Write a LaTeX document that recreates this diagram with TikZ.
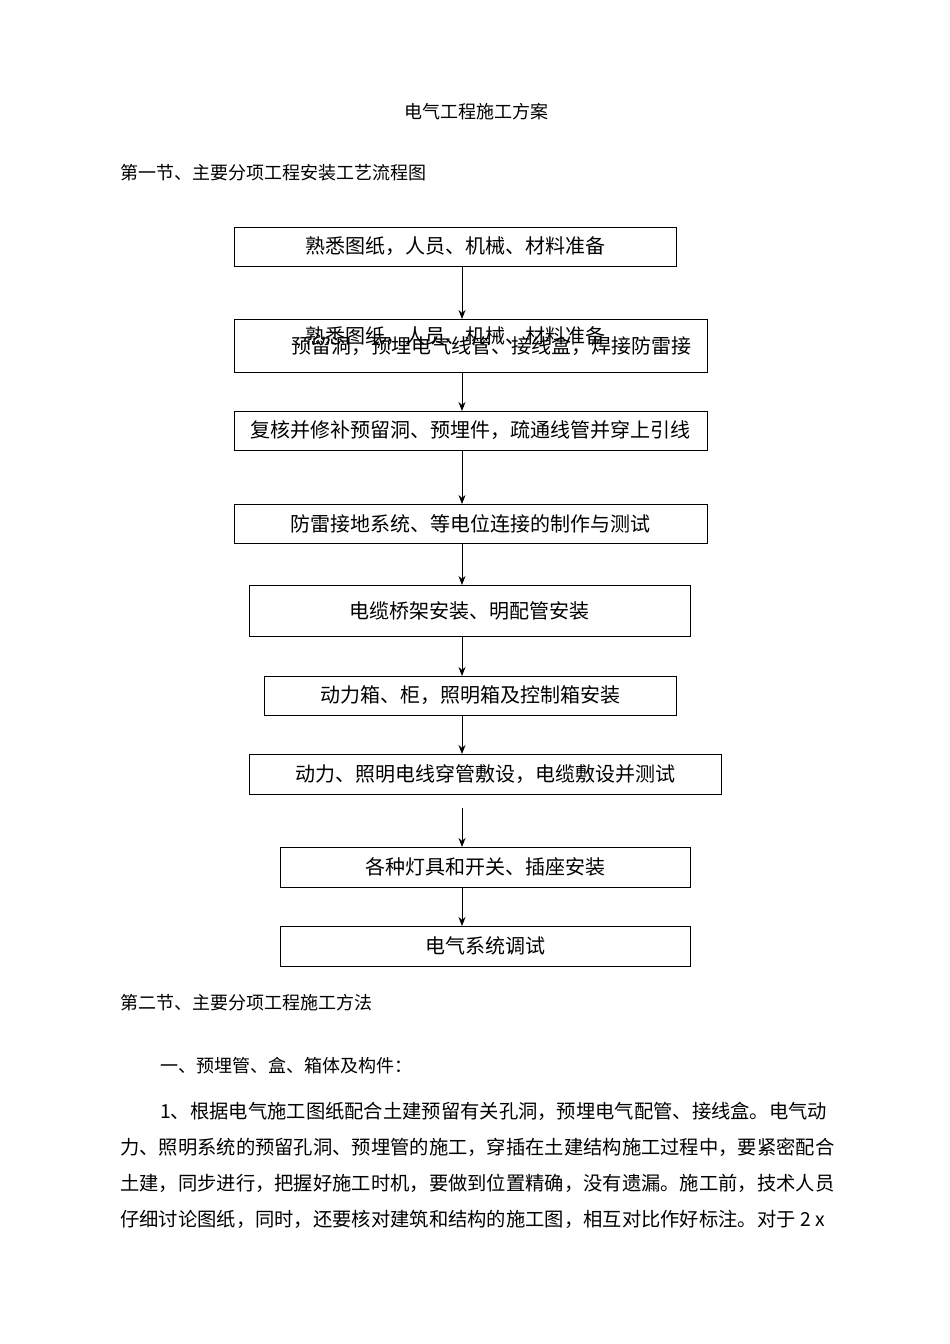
\documentclass[tikz,border=0pt]{standalone}
\usepackage{fontspec}
\setmainfont{Noto Sans CJK SC}
\usetikzlibrary{arrows.meta}
\begin{document}
\begin{tikzpicture}[x=1pt,y=-1pt,
  fbox/.style={draw,line width=0.8pt,font=\fontsize{20}{22}\selectfont,inner sep=0pt},
  txt/.style={anchor=west,inner sep=0pt,font=\fontsize{18}{20}\selectfont},
  ptxt/.style={anchor=west,inner sep=0pt,font=\fontsize{19.3}{21}\selectfont},
  arr/.style={-{Stealth[length=9pt,width=7pt]},line width=1pt}]
\useasboundingbox[fill=white] (0,0) rectangle (950,1344);
\node[font=\fontsize{18}{20}\selectfont] (title) at (476,112) {电气工程施工方案};
\node[txt] (s1) at (120,173) {第一节、主要分项工程安装工艺流程图};
\newcommand{\fb}[6]{\node[fbox,minimum width=#3-#2,minimum height=#5-#4] (#1) at ({(#2+#3)/2},{(#4+#5)/2}) {#6};}
\fb{b1}{234}{676}{227}{266}{熟悉图纸，人员、机械、材料准备}
\fb{b2}{234}{707}{319}{372}{}
\node[font=\fontsize{20}{22}\selectfont] (b2a) at (455,336) {熟悉图纸，人员、机械、材料准备};
\node[font=\fontsize{20}{22}\selectfont] (b2b) at (491,346) {预留洞，预埋电气线管、接线盒，焊接防雷接};
\fb{b3}{234}{707}{411}{450}{复核并修补预留洞、预埋件，疏通线管并穿上引线}
\fb{b4}{234}{707}{504}{543}{防雷接地系统、等电位连接的制作与测试}
\fb{b5}{249}{690}{585}{636}{电缆桥架安装、明配管安装}
\fb{b6}{264}{676}{676}{715}{动力箱、柜，照明箱及控制箱安装}
\fb{b7}{249}{721}{754}{794}{动力、照明电线穿管敷设，电缆敷设并测试}
\fb{b8}{280}{690}{847}{887}{各种灯具和开关、插座安装}
\fb{b9}{280}{690}{926}{966}{电气系统调试}
\draw[arr] (462,266) -- (462,319);
\draw[arr] (462,372) -- (462,411);
\draw[arr] (462,450) -- (462,504);
\draw[arr] (462,543) -- (462,585);
\draw[arr] (462,636) -- (462,676);
\draw[arr] (462,715) -- (462,754);
\draw[arr] (462,808) -- (462,847);
\draw[arr] (462,887) -- (462,926);
\node[txt] (s2) at (120,1003) {第二节、主要分项工程施工方法};
\node[txt] (p0) at (160,1066) {一、预埋管、盒、箱体及构件：};
\node[ptxt] (p1) at (160,1111) {1、根据电气施工图纸配合土建预留有关孔洞，预埋电气配管、接线盒。电气动};
\node[ptxt] (p2) at (120,1147) {力、照明系统的预留孔洞、预埋管的施工，穿插在土建结构施工过程中，要紧密配合};
\node[ptxt] (p3) at (120,1183) {土建，同步进行，把握好施工时机，要做到位置精确，没有遗漏。施工前，技术人员};
\node[ptxt] (p4) at (120,1219) {仔细讨论图纸，同时，还要核对建筑和结构的施工图，相互对比作好标注。对于 2 x};
\end{tikzpicture}
\end{document}
